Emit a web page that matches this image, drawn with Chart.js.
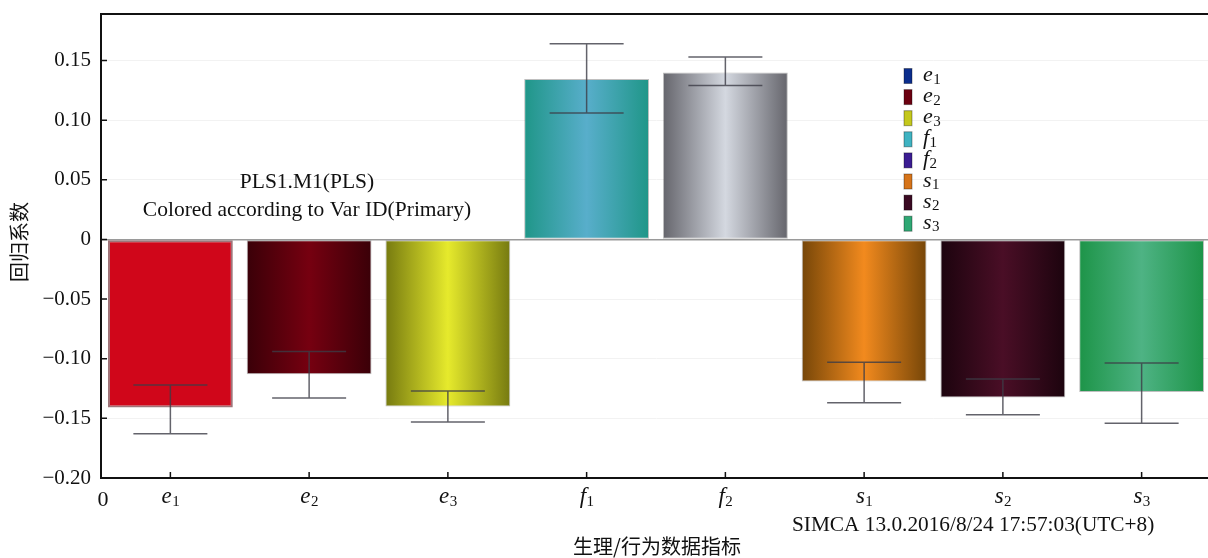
<!DOCTYPE html>
<html>
<head>
<meta charset="utf-8">
<script src="https://cdn.jsdelivr.net/npm/chart.js@4/dist/chart.umd.min.js"></script>
<style>
  html, body { margin: 0; padding: 0; background: #fff; overflow: hidden; }
  #wrap { position: relative; width: 1211px; height: 558px; }
</style>
</head>
<body>
<div id="wrap"><canvas id="c"></canvas></div>
<script>
// ---------- data ----------
const categories = ['e1', 'e2', 'e3', 'f1', 'f2', 's1', 's2', 's3'];
const values   = [-0.141, -0.113, -0.140, 0.1345, 0.140, -0.119, -0.1325, -0.128];
const errLow   = [-0.163, -0.133, -0.153, 0.106, 0.129, -0.137, -0.147, -0.154];
const errHigh  = [-0.122, -0.094, -0.127, 0.164, 0.153, -0.103, -0.117, -0.1035];
const yTickValues = [-0.20, -0.15, -0.10, -0.05, 0, 0.05, 0.10, 0.15];
const yTickLabels = ['\u22120.20', '\u22120.15', '\u22120.10', '\u22120.05', '0', '0.05', '0.10', '0.15'];
const yMin = -0.20, yMax = 0.189;

const barEdgeColors   = ['#d0061a', '#3a0008', '#767a10', '#1f9688', '#65656c', '#764608', '#1c040e', '#1d9448'];
const barCenterColors = ['#d0061a', '#760010', '#e6ea2c', '#58aecb', '#d4d8e0', '#f28a1e', '#4a0e26', '#4eb384'];
const legendColors    = ['#0b2d8c', '#6b0010', '#c4c81c', '#3fb3c2', '#3b1c92', '#d6741a', '#3a0a22', '#2fa874'];

const titleText = ['PLS1.M1(PLS)', 'Colored according to Var ID(Primary)'];
const footerText = 'SIMCA 13.0.2016/8/24 17:57:03(UTC+8)';
const xTitle = '生理/行为数据指标';
const yTitle = '回归系数';

const SERIF = "'Liberation Serif', 'DejaVu Serif', serif";
const CJK = "'Noto Sans CJK SC', sans-serif";

function drawSubLabel(ctx, text, x, y, size, align) {
  const letter = text[0], sub = text.slice(1);
  const subSize = Math.round(size * 0.66);
  ctx.save();
  ctx.textBaseline = 'alphabetic';
  ctx.font = 'italic ' + size + 'px ' + SERIF;
  const lw = ctx.measureText(letter).width;
  ctx.font = subSize + 'px ' + SERIF;
  const sw = ctx.measureText(sub).width;
  let x0 = align === 'center' ? x - (lw + sw) / 2 : x;
  ctx.font = 'italic ' + size + 'px ' + SERIF;
  ctx.textAlign = 'left';
  ctx.fillText(letter, x0, y);
  ctx.font = subSize + 'px ' + SERIF;
  ctx.fillText(sub, x0 + lw + 0.5, y + size * 0.12);
  ctx.restore();
}

const decorPlugin = {
  id: 'decor',
  afterDatasetsDraw(chart) {
    const ctx = chart.ctx, xs = chart.scales.x, ys = chart.scales.y;
    ctx.save();
    ctx.strokeStyle = 'rgba(60,60,70,0.8)';
    ctx.lineWidth = 1.5;
    const cap = 37;
    for (let i = 0; i < categories.length; i++) {
      const x = xs.getPixelForValue(i);
      const yl = ys.getPixelForValue(errLow[i]);
      const yh = ys.getPixelForValue(errHigh[i]);
      ctx.beginPath();
      ctx.moveTo(x, yl); ctx.lineTo(x, yh);
      ctx.moveTo(x - cap, yl); ctx.lineTo(x + cap, yl);
      ctx.moveTo(x - cap, yh); ctx.lineTo(x + cap, yh);
      ctx.stroke();
    }
    ctx.restore();
  },
  afterDraw(chart) {
    const ctx = chart.ctx, xs = chart.scales.x, ys = chart.scales.y, ca = chart.chartArea;
    ctx.save();
    // top frame
    ctx.strokeStyle = '#111';
    ctx.lineWidth = 2;
    ctx.beginPath();
    ctx.moveTo(ca.left - 1, ca.top); ctx.lineTo(chart.width, ca.top);
    ctx.stroke();
    // inward ticks
    ctx.lineWidth = 1.5;
    ctx.beginPath();
    yTickValues.forEach(v => {
      const y = ys.getPixelForValue(v);
      ctx.moveTo(ca.left, y); ctx.lineTo(ca.left + 6, y);
    });
    for (let i = 0; i < categories.length; i++) {
      const x = xs.getPixelForValue(i);
      ctx.moveTo(x, ca.bottom); ctx.lineTo(x, ca.bottom - 6);
    }
    ctx.stroke();
    // x tick labels
    ctx.fillStyle = '#111';
    for (let i = 0; i < categories.length; i++) {
      drawSubLabel(ctx, categories[i], xs.getPixelForValue(i), ca.bottom + 25, 23, 'center');
    }
    ctx.font = '22px ' + SERIF;
    ctx.textAlign = 'center';
    ctx.textBaseline = 'alphabetic';
    ctx.fillText('0', ca.left + 2, ca.bottom + 28);
    // annotation
    ctx.font = '21.5px ' + SERIF;
    ctx.fillText(titleText[0], 307, 188);
    ctx.fillText(titleText[1], 307, 216);
    // footer
    ctx.font = '21.3px ' + SERIF;
    ctx.textAlign = 'left';
    ctx.fillText(footerText, 792, 531);
    // x title
    ctx.font = '20px ' + CJK;
    ctx.textAlign = 'center';
    ctx.textBaseline = 'middle';
    ctx.fillText(xTitle, 657, 546);
    // y title
    ctx.save();
    ctx.translate(19, 242);
    ctx.rotate(-Math.PI / 2);
    ctx.fillText(yTitle, 0, 0);
    ctx.restore();
    // legend
    for (let i = 0; i < categories.length; i++) {
      const cy = 76 + i * 21.1;
      ctx.fillStyle = legendColors[i];
      ctx.fillRect(904, cy - 7.5, 8, 15);
      ctx.strokeStyle = 'rgba(0,0,0,0.35)';
      ctx.lineWidth = 1;
      ctx.strokeRect(904, cy - 7.5, 8, 15);
      ctx.fillStyle = '#111';
      drawSubLabel(ctx, categories[i], 923, cy + 5, 22, 'left');
    }
    ctx.restore();
  }
};

function barFill(c) {
  if (c.type !== 'data') return barCenterColors[0];
  const i = c.dataIndex;
  const chart = c.chart, xs = chart.scales.x;
  if (i === 0 || !xs || !chart.chartArea) return barCenterColors[i];
  const cx = xs.getPixelForValue(i);
  const w = (xs.width / categories.length) * 0.9;
  const g = chart.ctx.createLinearGradient(cx - w / 2, 0, cx + w / 2, 0);
  g.addColorStop(0, barEdgeColors[i]);
  g.addColorStop(0.5, barCenterColors[i]);
  g.addColorStop(1, barEdgeColors[i]);
  return g;
}

new Chart(document.getElementById('c'), {
  type: 'bar',
  data: {
    labels: categories,
    datasets: [{
      data: values,
      backgroundColor: barFill,
      borderColor: categories.map((_, i) => i === 0 ? '#9e7479' : 'rgba(0,0,0,0.25)'),
      borderWidth: categories.map((_, i) => i === 0 ? 2 : 1),
      borderSkipped: false,
      barPercentage: 0.9,
      categoryPercentage: 1.0
    }]
  },
  options: {
    responsive: true,
    maintainAspectRatio: false,
    animation: false,
    events: [],
    layout: { padding: { top: 14, right: 0, left: 0, bottom: 0 } },
    plugins: { legend: { display: false }, tooltip: { enabled: false } },
    scales: {
      x: {
        grid: { display: false, drawTicks: false },
        border: { display: true, color: '#111', width: 2 },
        ticks: { display: false },
        afterFit: s => { s.height = 80; s.paddingLeft = 0; s.paddingRight = 0; }
      },
      y: {
        min: yMin,
        max: yMax,
        afterBuildTicks: s => { s.ticks = yTickValues.map(v => ({ value: v })); },
        afterFit: s => { s.width = 101; s.paddingTop = 0; s.paddingBottom = 0; },
        grid: {
          drawTicks: false,
          color: c => (c.tick && c.tick.value === 0) ? '#9a9a9a' : '#f2f2f2',
          lineWidth: c => (c.tick && c.tick.value === 0) ? 1.5 : 1
        },
        border: { display: true, color: '#111', width: 2 },
        ticks: {
          padding: 10,
          color: '#111',
          font: { family: SERIF, size: 21 },
          callback: (v) => {
            const k = yTickValues.findIndex(t => Math.abs(t - v) < 1e-9);
            return k >= 0 ? yTickLabels[k] : '';
          }
        }
      }
    }
  },
  plugins: [decorPlugin]
});
</script>
</body>
</html>
